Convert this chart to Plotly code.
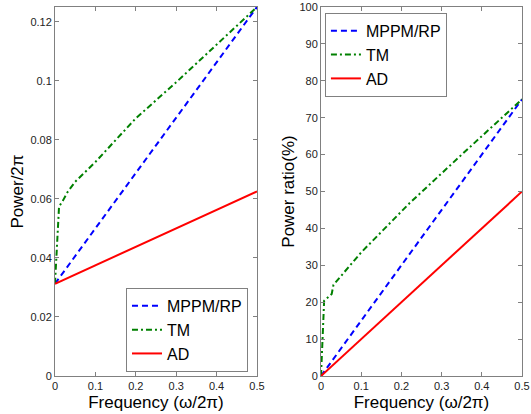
import plotly.graph_objects as go

# Left panel: power / 2π
freq_lin = [0.0, 0.5]
mppm_power = [0.03125, 0.125]
ad_power = [0.03125, 0.0625]
tm_freq = [0.0, 0.01, 0.02, 0.03, 0.05, 0.1, 0.2, 0.3, 0.5]
tm_power = [0.03125, 0.0574, 0.0595, 0.0621, 0.0658, 0.0725, 0.0873, 0.0995, 0.125]

# Right panel: power ratio (%)
mppm_ratio = [0.0, 75.0]
ad_ratio = [0.0, 50.0]
tm_freq_r = [0.0, 0.0078, 0.0266, 0.031, 0.1, 0.22, 0.35, 0.5]
tm_ratio = [0.0, 20.4, 22.2, 24.7, 33.5, 46.8, 60.0, 75.0]

x_ticks = [0, 0.1, 0.2, 0.3, 0.4, 0.5]
x_ticklabels = ["0", "0.1", "0.2", "0.3", "0.4", "0.5"]
yl_ticks = [0, 0.02, 0.04, 0.06, 0.08, 0.1, 0.12]
yl_ticklabels = ["0", "0.02", "0.04", "0.06", "0.08", "0.1", "0.12"]
yr_ticks = list(range(0, 101, 10))

names = ["MPPM/RP", "TM", "AD"]
colors = ["#0000ff", "#008000", "#ff0000"]
dashes = ["6px,4px", "6px,3px,2px,3px", "solid"]

FONT = "Liberation Sans, Arial, sans-serif"
fig = go.Figure()

left_data = [(freq_lin, mppm_power), (tm_freq, tm_power), (freq_lin, ad_power)]
right_data = [(freq_lin, mppm_ratio), (tm_freq_r, tm_ratio), (freq_lin, ad_ratio)]

for i, (xs, ys) in enumerate(left_data):
    fig.add_trace(go.Scatter(x=xs, y=ys, mode="lines", name=names[i],
                             line=dict(color=colors[i], dash=dashes[i], width=2),
                             xaxis="x", yaxis="y", legend="legend"))
for i, (xs, ys) in enumerate(right_data):
    fig.add_trace(go.Scatter(x=xs, y=ys, mode="lines", name=names[i],
                             line=dict(color=colors[i], dash=dashes[i], width=2),
                             xaxis="x2", yaxis="y2", legend="legend2"))

axis_common = dict(showline=True, linecolor="#808080", linewidth=1, mirror="ticks",
                   ticks="inside", ticklen=4, tickcolor="#808080", showgrid=False,
                   zeroline=False, automargin=False,
                   tickfont=dict(family=FONT, size=11, color="#222"))

title_font = dict(size=17, family=FONT, color="#000")

fig.update_layout(
    width=531, height=414,
    margin=dict(l=55, r=9, t=7, b=38),
    paper_bgcolor="white", plot_bgcolor="white",
    font=dict(family=FONT, color="#000"),
    xaxis=dict(domain=[0, 0.4325], range=[0, 0.5], tickvals=x_ticks, ticktext=x_ticklabels,
               title=dict(text="Frequency (ω/2π)", font=title_font, standoff=4),
               anchor="y", **axis_common),
    yaxis=dict(domain=[0, 1], range=[0, 0.125], tickvals=yl_ticks, ticktext=yl_ticklabels,
               title=dict(text="Power/2π", font=title_font, standoff=2),
               anchor="x", **axis_common),
    xaxis2=dict(domain=[0.5696, 1], range=[0, 0.5], tickvals=x_ticks, ticktext=x_ticklabels,
                title=dict(text="Frequency (ω/2π)", font=title_font, standoff=4),
                anchor="y2", **axis_common),
    yaxis2=dict(domain=[0, 1], range=[0, 100], tickvals=yr_ticks,
                title=dict(text="Power ratio(%)", font=title_font, standoff=0),
                anchor="x2", **axis_common),
    legend=dict(x=0.152, y=0.011, xanchor="left", yanchor="bottom",
                bgcolor="white", bordercolor="#808080", borderwidth=1,
                font=dict(size=16, family=FONT), tracegroupgap=0, itemwidth=30),
    legend2=dict(x=0.578, y=0.984, xanchor="left", yanchor="top",
                 bgcolor="white", bordercolor="#808080", borderwidth=1,
                 font=dict(size=16, family=FONT), tracegroupgap=0, itemwidth=30),
    showlegend=True,
)

fig.write_html("out.html", config={"displayModeBar": False},
               post_script="document.body.style.margin='0';document.body.style.overflow='hidden';")
